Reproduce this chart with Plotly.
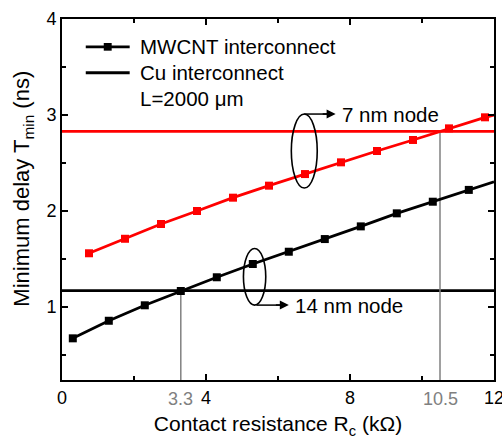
import plotly.graph_objects as go

# Contact resistance (kOhm) and minimum delay (ns) for the MWCNT interconnect
rc_14nm = [0.3, 1.3, 2.3, 3.3, 4.3, 5.3, 6.3, 7.3, 8.3, 9.3, 10.3, 11.3]
delay_14nm = [0.674, 0.857, 1.018, 1.167, 1.31, 1.448, 1.576, 1.708, 1.84, 1.976, 2.097, 2.22]
delay_14nm_end = 2.305  # curve value at Rc = 12

rc_7nm = [0.75, 1.75, 2.75, 3.75, 4.75, 5.75, 6.75, 7.75, 8.75, 9.75, 10.75, 11.75]
delay_7nm = [1.56, 1.711, 1.865, 2.0, 2.139, 2.264, 2.385, 2.507, 2.625, 2.74, 2.861, 2.976]
delay_7nm_end = 3.0

# Cu interconnect delays (ns)
cu_14nm = 1.17
cu_7nm = 2.83

# Crossover resistances (kOhm)
cross_14nm = 3.3
cross_7nm = 10.5

x_ticks = [0, 4, 8, 12]
y_ticks = [1, 2, 3, 4]

RED = "#ff0000"
BLACK = "#000000"
GRAY = "#808080"
FONT = "Liberation Sans, Arial, sans-serif"

fig = go.Figure()

# smooth curves extending to the right border
fig.add_trace(go.Scatter(x=rc_7nm + [12], y=delay_7nm + [delay_7nm_end], mode="lines",
                         line=dict(color=RED, width=2.8), showlegend=False))
fig.add_trace(go.Scatter(x=rc_14nm + [12], y=delay_14nm + [delay_14nm_end], mode="lines",
                         line=dict(color=BLACK, width=2.8), showlegend=False))
# square markers
fig.add_trace(go.Scatter(x=rc_7nm, y=delay_7nm, mode="markers",
                         marker=dict(symbol="square", size=8, color=RED), showlegend=False))
fig.add_trace(go.Scatter(x=rc_14nm, y=delay_14nm, mode="markers",
                         marker=dict(symbol="square", size=8, color=BLACK), showlegend=False))

shapes = []
# Cu reference levels
shapes.append(dict(type="line", xref="paper", x0=0, x1=1, yref="y", y0=cu_7nm, y1=cu_7nm,
                   line=dict(color=RED, width=2.8), layer="below"))
shapes.append(dict(type="line", xref="paper", x0=0, x1=1, yref="y", y0=cu_14nm, y1=cu_14nm,
                   line=dict(color=BLACK, width=2.8), layer="below"))
# crossover drop lines
for xc, yc in [(cross_14nm, cu_14nm), (cross_7nm, cu_7nm)]:
    shapes.append(dict(type="line", x0=xc, x1=xc, y0=0.24, y1=yc,
                       line=dict(color=GRAY, width=1.5), layer="below"))
# ellipses marking each node
shapes.append(dict(type="circle", x0=6.37, x1=7.09, y0=2.24, y1=3.01,
                   line=dict(color=BLACK, width=1.6)))
shapes.append(dict(type="circle", x0=5.04, x1=5.66, y0=1.02, y1=1.61,
                   line=dict(color=BLACK, width=1.6)))
# leader lines from ellipses
shapes.append(dict(type="line", x0=6.73, x1=7.4, y0=3.01, y1=3.01, line=dict(color=BLACK, width=1.5)))
shapes.append(dict(type="line", x0=5.4, x1=6.1, y0=1.02, y1=1.02, line=dict(color=BLACK, width=1.5)))

# legend samples
shapes.append(dict(type="line", xref="x", yref="y", x0=0.66, x1=1.88, y0=3.71, y1=3.71,
                   line=dict(color=BLACK, width=2.8)))
shapes.append(dict(type="rect", xref="x", yref="y", x0=1.16, x1=1.38, y0=3.67, y1=3.75,
                   fillcolor=BLACK, line=dict(width=0)))
shapes.append(dict(type="line", xref="x", yref="y", x0=0.66, x1=1.88, y0=3.44, y1=3.44,
                   line=dict(color=BLACK, width=2.8)))

annotations = []
tfont = dict(family=FONT, size=20.5, color=BLACK)
annotations.append(dict(x=2.1, y=3.71, text="MWCNT interconnect", showarrow=False,
                        xanchor="left", yanchor="middle", font=tfont))
annotations.append(dict(x=2.1, y=3.44, text="Cu interconnect", showarrow=False,
                        xanchor="left", yanchor="middle", font=tfont))
annotations.append(dict(x=2.1, y=3.17, text="L=2000 \u03bcm", showarrow=False,
                        xanchor="left", yanchor="middle", font=tfont))
# arrowheads and node labels
annotations.append(dict(x=7.6, y=3.01, ax=7.2, ay=3.01, axref="x", ayref="y", text="",
                        showarrow=True, arrowhead=2, arrowsize=1.2, arrowwidth=1.5, arrowcolor=BLACK))
annotations.append(dict(x=7.72, y=3.01, text="7 nm node", showarrow=False,
                        xanchor="left", yanchor="middle", font=tfont))
annotations.append(dict(x=6.3, y=1.02, ax=5.9, ay=1.02, axref="x", ayref="y", text="",
                        showarrow=True, arrowhead=2, arrowsize=1.2, arrowwidth=1.5, arrowcolor=BLACK))
annotations.append(dict(x=6.42, y=1.02, text="14 nm node", showarrow=False,
                        xanchor="left", yanchor="middle", font=tfont))
# gray crossover tick labels
for xc in [cross_14nm, cross_7nm]:
    annotations.append(dict(x=xc, y=0, yref="paper", yshift=-7, text=f"{xc:g}", showarrow=False,
                            xanchor="center", yanchor="top",
                            font=dict(family=FONT, size=18, color=GRAY)))
# y axis title
annotations.append(dict(x=0, xref="paper", xshift=-39, y=0.53, yref="paper",
                        text="Minimum delay T<sub>min</sub> (ns)", textangle=-90, showarrow=False,
                        xanchor="center", yanchor="middle",
                        font=dict(family=FONT, size=22, color=BLACK)))

axis_common = dict(showline=True, linecolor=BLACK, linewidth=2, mirror="ticks",
                   ticks="inside", ticklen=6, tickwidth=1.5, tickcolor=BLACK,
                   showgrid=False, zeroline=False, ticklabeloverflow="allow", automargin=False,
                   tickfont=dict(family=FONT, size=18, color=BLACK))

fig.update_layout(
    width=502, height=441,
    margin=dict(l=62, r=8, t=19, b=61),
    plot_bgcolor="white", paper_bgcolor="white",
    shapes=shapes, annotations=annotations,
    xaxis=dict(range=[0, 12], tickvals=x_ticks, ticktext=[str(v) for v in x_ticks],
               minor=dict(dtick=2, tick0=0, ticks="inside", ticklen=4, tickcolor=BLACK, tickwidth=1.5),
               title=dict(text="Contact resistance R<sub>c</sub> (k\u03a9)", standoff=10,
                          font=dict(family=FONT, size=21, color=BLACK)),
               **axis_common),
    yaxis=dict(range=[0.24, 4], tickvals=y_ticks, ticktext=[str(v) for v in y_ticks],
               minor=dict(dtick=0.5, tick0=0, ticks="inside", ticklen=4, tickcolor=BLACK, tickwidth=1.5),
               **axis_common),
)

fig.write_html("out.html")
